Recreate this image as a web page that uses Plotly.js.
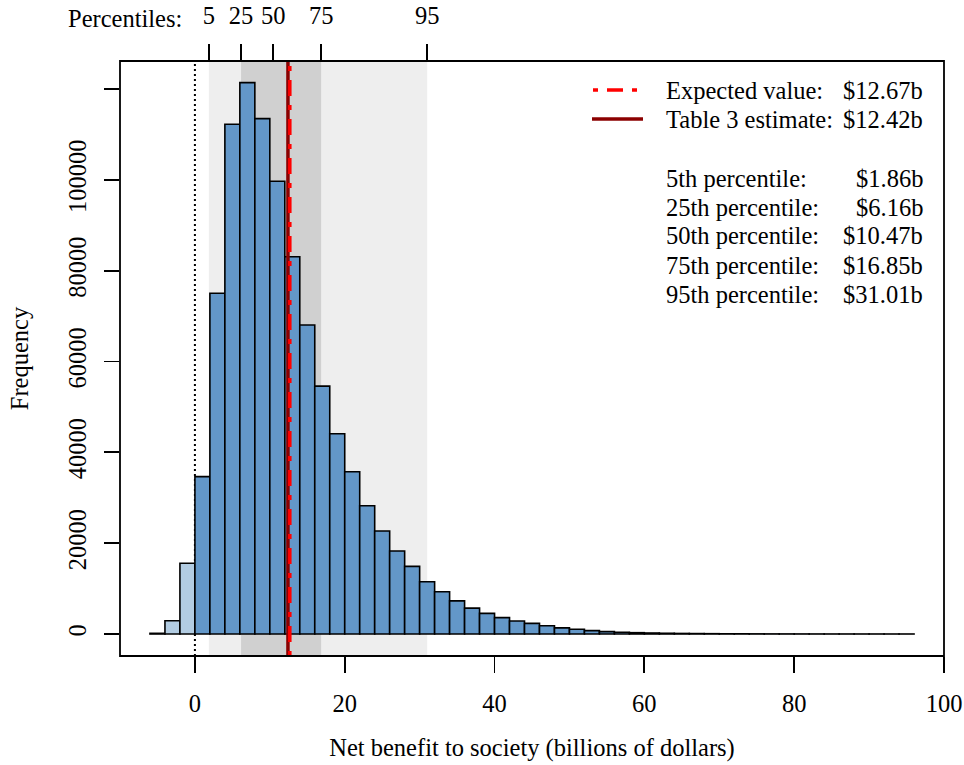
<!DOCTYPE html>
<html>
<head>
<meta charset="utf-8">
<script src="https://cdn.plot.ly/plotly-3.0.1.min.js"></script>
<style>html,body{margin:0;padding:0;background:#fff;}</style>
</head>
<body>
<div id="chart" style="width:964px;height:765px;"></div>
<script>
// ---------------- data ----------------
const binMid = [-5,-3,-1,1,3,5,7,9,11,13,15,17,19,21,23,25,27,29,31,33,35,37,39,41,43,45,47,49,51,53,55,57,59,61,63,65,67,69,71,73,75,77,79,81,83,85,87,89,91,93,95];
const binWidth = 2;
const counts = [150,2930,15570,34650,75040,112270,121430,113500,99700,83100,68060,54600,44100,35750,28260,22690,18280,14900,11520,9300,7300,5700,4550,3600,2860,2350,1830,1350,1030,750,520,380,290,220,160,120,95,70,50,40,30,22,16,12,9,7,5,4,3,2,1];
const pctLevels = ['5','25','50','75','95'];
const pctValues = [1.86, 6.16, 10.47, 16.85, 31.01];
const expectedValue = 12.67;
const table3Estimate = 12.42;
const xTicks = [0,20,40,60,80,100];
const yTicks = [0,20000,40000,60000,80000,100000,120000];
const yTickText = ['0','20000','40000','60000','80000','100000',''];
const xTitle = 'Net benefit to society (billions of dollars)';
const yTitle = 'Frequency';

// ---------------- layout helpers ----------------
const W = 964, H = 765;
const PL = 120, PR = 944, PT = 61, PB = 656;
const px2x = p => (p - PL) / (PR - PL);
const px2y = p => (PB - p) / (PB - PT);
const FONT = {family: '"Liberation Serif", "Times New Roman", Times, serif', size: 24.5, color: '#000'};
const fmt = v => '$' + v.toFixed(2) + 'b';

const darkBlue = '#6397C8', lightBlue = '#B2CCE2';
const barColors = binMid.map(m => m < 0 ? lightBlue : darkBlue);
const redDash = '5px,9px,16px,9px';

const traces = [
  {
    type: 'bar', x: binMid, y: counts, width: binWidth,
    marker: {color: barColors, line: {color: '#000', width: 1.6}},
    hoverinfo: 'x+y', xaxis: 'x', yaxis: 'y'
  },
  {
    type: 'scatter', mode: 'markers', x: pctValues, y: pctValues.map(() => 0),
    marker: {opacity: 0, size: 1}, hoverinfo: 'skip', xaxis: 'x2', yaxis: 'y'
  }
];

const shapes = [
  {type:'rect', xref:'x', yref:'paper', x0:pctValues[0], x1:pctValues[4], y0:0, y1:1, fillcolor:'#EEEEEE', line:{width:0}, layer:'below'},
  {type:'rect', xref:'x', yref:'paper', x0:pctValues[1], x1:pctValues[3], y0:0, y1:1, fillcolor:'#D0D0D0', line:{width:0}, layer:'below'},
  {type:'line', xref:'x', yref:'paper', x0:0, x1:0, y0:0, y1:1, line:{color:'#000', width:2, dash:'2px,3px'}, layer:'below'},
  {type:'line', xref:'x', yref:'paper', x0:table3Estimate, x1:table3Estimate, y0:0, y1:1, line:{color:'#8B0000', width:3.5}, layer:'above'},
  {type:'line', xref:'x', yref:'paper', x0:expectedValue, x1:expectedValue, y0:0, y1:1, line:{color:'#FF0000', width:3.5, dash:redDash}, layer:'above'},
  {type:'rect', xref:'paper', yref:'paper', x0:0, x1:1, y0:0, y1:1, line:{color:'#000', width:1.8}, fillcolor:'rgba(0,0,0,0)', layer:'above'},
  // legend keys
  {type:'line', xref:'paper', yref:'paper', x0:px2x(593), x1:px2x(637), y0:px2y(90), y1:px2y(90), line:{color:'#FF0000', width:3.5, dash:redDash}},
  {type:'line', xref:'paper', yref:'paper', x0:px2x(592), x1:px2x(643), y0:px2y(119), y1:px2y(119), line:{color:'#8B0000', width:3.5}}
];

const legLeft = ['Expected value:', 'Table 3 estimate:', '5th percentile:', '25th percentile:', '50th percentile:', '75th percentile:', '95th percentile:'];
const legRight = [expectedValue, table3Estimate].concat(pctValues).map(fmt);
const rowY = [90, 119, 178, 207, 236, 265, 294];

const annotations = [];
legLeft.forEach((t, i) => {
  annotations.push({xref:'paper', yref:'paper', x:px2x(664), y:px2y(rowY[i]), xanchor:'left', yanchor:'middle', text:t, showarrow:false, font:FONT});
  annotations.push({xref:'paper', yref:'paper', x:px2x(925), y:px2y(rowY[i]), xanchor:'right', yanchor:'middle', text:legRight[i], showarrow:false, font:FONT});
});
annotations.push({xref:'paper', yref:'paper', x:px2x(184), y:px2y(18), xanchor:'right', yanchor:'middle', text:'Percentiles:', showarrow:false, font:FONT});

const axisCommon = {
  showgrid:false, zeroline:false, showline:false, ticks:'outside', tickcolor:'#000', tickwidth:1.8,
  tickfont:FONT, fixedrange:true
};

const layout = {
  width: W, height: H,
  margin: {l: PL, r: W - PR, t: PT, b: H - PB, pad: 0},
  paper_bgcolor:'#fff', plot_bgcolor:'#fff',
  font: FONT, showlegend:false, bargap:0,
  xaxis: Object.assign({}, axisCommon, {
    range:[-10,100], tickvals:xTicks, ticktext:xTicks.map(String), ticklen:16, ticklabelstandoff:10,
    title:{text:xTitle, font:FONT, standoff:22}
  }),
  xaxis2: Object.assign({}, axisCommon, {
    overlaying:'x', side:'top', anchor:'y', range:[-10,100], tickvals:pctValues, ticktext:pctLevels, ticklen:16, ticklabelstandoff:10
  }),
  yaxis: Object.assign({}, axisCommon, {
    range:[-4846,126200], tickvals:yTicks, ticktext:yTickText, tickangle:-90, ticklen:15, ticklabelstandoff:8,
    title:{text:yTitle, font:FONT, standoff:28}
  }),
  shapes, annotations
};

Plotly.newPlot('chart', traces, layout, {displayModeBar:false, staticPlot:true});
</script>
</body>
</html>
